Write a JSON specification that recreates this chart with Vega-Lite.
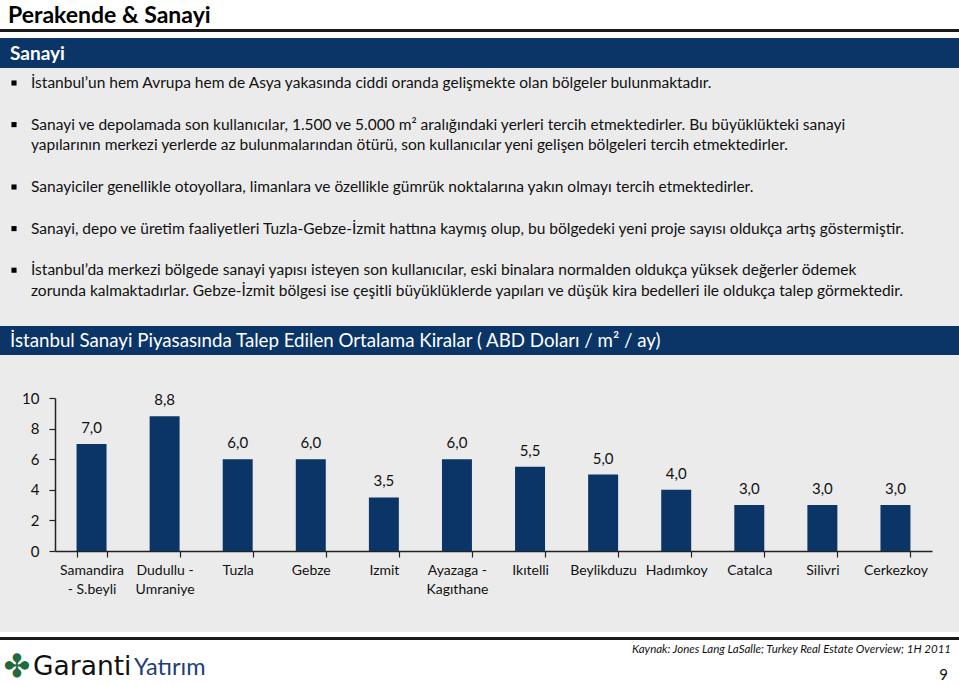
{
  "$schema": "https://vega.github.io/schema/vega-lite/v6.json",
  "background": "#ebebeb",
  "padding": 0,
  "spacing": 0,
  "bounds": "flush",
  "config": {
    "view": {"stroke": null},
    "font": "Lato",
    "locale": {"number": {"decimal": ",", "thousands": ".", "grouping": [3], "currency": ["", " TL"]}}
  },
  "vconcat": [
    {
      "width": 959, "height": 29,
      "view": {"fill": "#ffffff", "stroke": null},
      "data": {"values": [{"t": "Perakende & Sanayi"}]},
      "mark": {"type": "text", "align": "left", "baseline": "alphabetic", "font": "Lato", "fontWeight": "bold", "fontSize": 23, "color": "#000000"},
      "encoding": {"text": {"field": "t"}, "x": {"value": 8}, "y": {"value": 22.7}}
    },
    {
      "width": 959, "height": 3,
      "view": {"fill": "#1a1a1a", "stroke": null},
      "data": {"values": [{"t": ""}]},
      "mark": {"type": "text"},
      "encoding": {"text": {"field": "t"}}
    },
    {
      "width": 959, "height": 6,
      "view": {"fill": "#ffffff", "stroke": null},
      "data": {"values": [{"t": ""}]},
      "mark": {"type": "text"},
      "encoding": {"text": {"field": "t"}}
    },
    {
      "width": 959, "height": 30,
      "view": {"fill": "#0a3566", "stroke": null},
      "data": {"values": [{"t": "Sanayi"}]},
      "mark": {"type": "text", "align": "left", "baseline": "alphabetic", "font": "Lato", "fontWeight": "bold", "fontSize": 19, "color": "#ffffff"},
      "encoding": {"text": {"field": "t"}, "x": {"value": 10}, "y": {"value": 22}}
    },
    {
      "width": 959, "height": 258,
      "data": {"values": [
        {"line": 1, "bullet": true, "text": "İstanbul’un hem Avrupa hem de Asya yakasında ciddi oranda gelişmekte olan bölgeler bulunmaktadır."},
        {"line": 2, "bullet": false, "text": ""},
        {"line": 3, "bullet": true, "text": "Sanayi ve depolamada son kullanıcılar, 1.500 ve 5.000 m² aralığındaki yerleri tercih etmektedirler. Bu büyüklükteki sanayi"},
        {"line": 4, "bullet": false, "text": "yapılarının merkezi yerlerde az bulunmalarından ötürü, son kullanıcılar yeni gelişen bölgeleri tercih etmektedirler."},
        {"line": 5, "bullet": false, "text": ""},
        {"line": 6, "bullet": true, "text": "Sanayiciler genellikle otoyollara, limanlara ve özellikle gümrük noktalarına yakın olmayı tercih etmektedirler."},
        {"line": 7, "bullet": false, "text": ""},
        {"line": 8, "bullet": true, "text": "Sanayi, depo ve üretim faaliyetleri Tuzla-Gebze-İzmit hattına kaymış olup, bu bölgedeki yeni proje sayısı oldukça artış göstermiştir."},
        {"line": 9, "bullet": false, "text": ""},
        {"line": 10, "bullet": true, "text": "İstanbul’da merkezi bölgede sanayi yapısı isteyen son kullanıcılar, eski binalara normalden oldukça yüksek değerler ödemek"},
        {"line": 11, "bullet": false, "text": "zorunda kalmaktadırlar. Gebze-İzmit bölgesi ise çeşitli büyüklüklerde yapıları ve düşük kira bedelleri ile oldukça talep görmektedir."}
      ]},
      "encoding": {
        "y": {"field": "line", "type": "ordinal", "axis": null, "scale": {"type": "point", "range": [15, 223], "padding": 0}}
      },
      "layer": [
        {
          "mark": {"type": "text", "align": "left", "baseline": "middle", "font": "Lato", "fontSize": 15.5, "color": "#111111"},
          "encoding": {"text": {"field": "text"}, "x": {"value": 31}}
        },
        {
          "transform": [{"filter": "datum.bullet"}],
          "mark": {"type": "square", "size": 26, "filled": true, "color": "#000000", "opacity": 1},
          "encoding": {"x": {"value": 14}}
        }
      ]
    },
    {
      "width": 959, "height": 29,
      "view": {"fill": "#0a3566", "stroke": null},
      "data": {"values": [{"t": "İstanbul Sanayi Piyasasında Talep Edilen Ortalama Kiralar ( ABD Doları / m² / ay)"}]},
      "mark": {"type": "text", "align": "left", "baseline": "alphabetic", "font": "Lato", "fontSize": 18.7, "color": "#ffffff"},
      "encoding": {"text": {"field": "t"}, "x": {"value": 10}, "y": {"value": 21}}
    },
    {
      "width": 959, "height": 43,
      "data": {"values": [{"t": ""}]},
      "mark": {"type": "text"},
      "encoding": {"text": {"field": "t"}}
    },
    {
      "width": 959, "height": 153,
      "data": {"values": [
        {"bolge": "Samandira\n- S.beyli", "kira": 7.0},
        {"bolge": "Dudullu -\nUmraniye", "kira": 8.8},
        {"bolge": "Tuzla", "kira": 6.0},
        {"bolge": "Gebze", "kira": 6.0},
        {"bolge": "Izmit", "kira": 3.5},
        {"bolge": "Ayazaga -\nKagıthane", "kira": 6.0},
        {"bolge": "Ikıtelli", "kira": 5.5},
        {"bolge": "Beylikduzu", "kira": 5.0},
        {"bolge": "Hadımkoy", "kira": 4.0},
        {"bolge": "Catalca", "kira": 3.0},
        {"bolge": "Silivri", "kira": 3.0},
        {"bolge": "Cerkezkoy", "kira": 3.0}
      ]},
      "encoding": {
        "x": {
          "field": "bolge", "type": "nominal", "sort": null,
          "scale": {"range": [55, 932], "paddingInner": 0.59, "paddingOuter": 0.295},
          "axis": {
            "title": null, "labelAngle": 0, "tickBand": "extent", "tickSize": 6, "tickWidth": 1.2,
            "tickColor": "#222222", "domainColor": "#222222", "domainWidth": 1.5,
            "labelFont": "Lato", "labelFontSize": 14, "labelColor": "#111111", "labelPadding": 6,
            "labelLineHeight": 19, "labelLimit": 300,
            "labelExpr": "split(datum.label, '\\n')"
          }
        },
        "y": {
          "field": "kira", "type": "quantitative",
          "scale": {"domain": [0, 10], "nice": false},
          "axis": {
            "title": null, "values": [0, 2, 4, 6, 8, 10], "format": "d", "grid": false, "offset": -55,
            "tickSize": 6, "tickWidth": 1.2, "tickColor": "#222222", "domainColor": "#222222", "domainWidth": 1.5,
            "labelFont": "Lato", "labelFontSize": 15, "labelColor": "#111111", "labelPadding": 10
          }
        }
      },
      "layer": [
        {"mark": {"type": "bar", "color": "#0a3566"}},
        {
          "mark": {"type": "text", "baseline": "bottom", "dy": -8, "font": "Lato", "fontSize": 15, "color": "#111111"},
          "encoding": {"text": {"field": "kira", "type": "quantitative", "format": ".1f"}}
        }
      ]
    },
    {
      "width": 959, "height": 81,
      "data": {"values": [{"t": ""}]},
      "mark": {"type": "text"},
      "encoding": {"text": {"field": "t"}}
    },
    {
      "width": 959, "height": 5,
      "view": {"fill": "#ffffff", "stroke": null},
      "data": {"values": [{"t": ""}]},
      "mark": {"type": "text"},
      "encoding": {"text": {"field": "t"}}
    },
    {
      "width": 959, "height": 3,
      "view": {"fill": "#1a1a1a", "stroke": null},
      "data": {"values": [{"t": ""}]},
      "mark": {"type": "text"},
      "encoding": {"text": {"field": "t"}}
    },
    {
      "width": 959, "height": 46,
      "view": {"fill": "#ffffff", "stroke": null},
      "layer": [
        {
          "data": {"values": [{"t": "✤"}]},
          "mark": {"type": "text", "align": "center", "baseline": "middle", "font": "DejaVu Sans", "fontSize": 32, "color": "#1e6b3b"},
          "encoding": {"text": {"field": "t"}, "x": {"value": 17}, "y": {"value": 27}}
        },
        {
          "data": {"values": [{"t": "Garanti"}]},
          "mark": {"type": "text", "align": "left", "baseline": "alphabetic", "font": "DejaVu Sans", "fontSize": 26.5, "color": "#111111"},
          "encoding": {"text": {"field": "t"}, "x": {"value": 33}, "y": {"value": 35}}
        },
        {
          "data": {"values": [{"t": "Yatırım"}]},
          "mark": {"type": "text", "align": "left", "baseline": "alphabetic", "font": "Lato", "fontSize": 23.5, "color": "#1d3f77"},
          "encoding": {"text": {"field": "t"}, "x": {"value": 134}, "y": {"value": 35}}
        },
        {
          "data": {"values": [{"t": "Kaynak: Jones Lang LaSalle; Turkey Real Estate Overview; 1H 2011"}]},
          "mark": {"type": "text", "align": "right", "baseline": "middle", "font": "Lato", "fontStyle": "italic", "fontSize": 11.5, "color": "#111111"},
          "encoding": {"text": {"field": "t"}, "x": {"value": 951}, "y": {"value": 10}}
        },
        {
          "data": {"values": [{"t": "9"}]},
          "mark": {"type": "text", "align": "right", "baseline": "middle", "font": "Lato", "fontSize": 15, "color": "#111111"},
          "encoding": {"text": {"field": "t"}, "x": {"value": 948}, "y": {"value": 35}}
        }
      ]
    }
  ]
}
